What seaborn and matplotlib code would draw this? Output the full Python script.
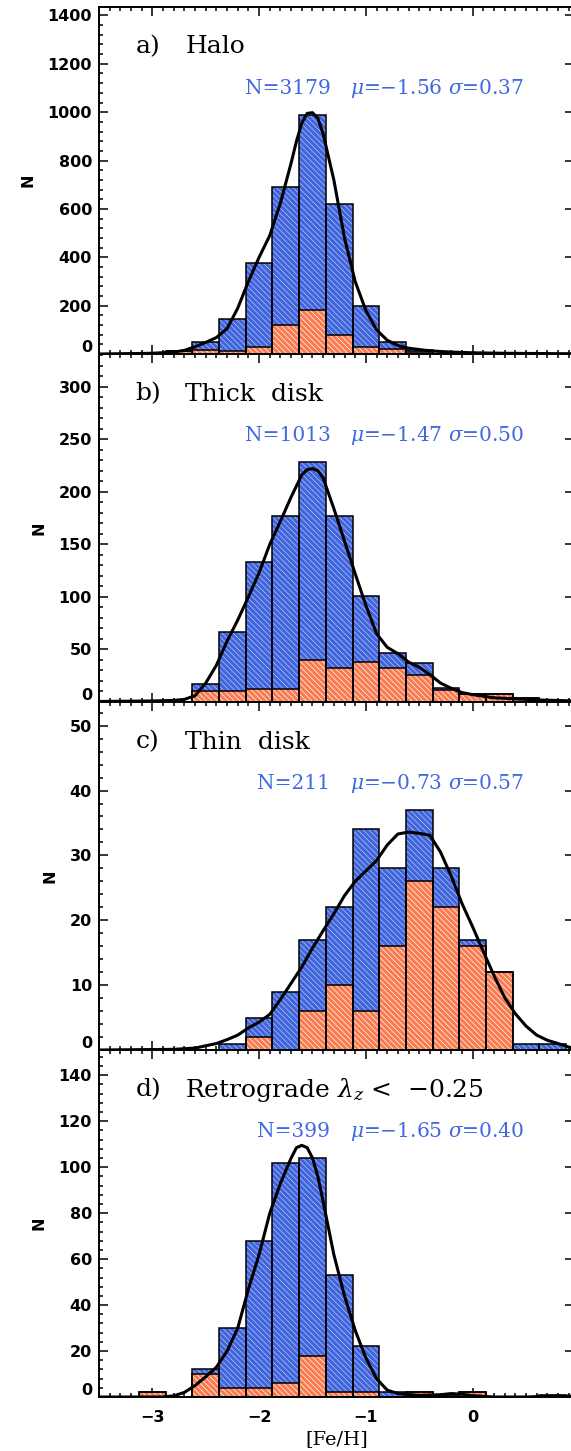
import numpy as np
import pandas as pd
import matplotlib
matplotlib.use("Agg")
import matplotlib.pyplot as plt
import seaborn as sns
from matplotlib.ticker import MultipleLocator

# ---------------- data ----------------
bin_centers = [-3.25, -3.0, -2.75, -2.5, -2.25, -2.0, -1.75, -1.5, -1.25,
               -1.0, -0.75, -0.5, -0.25, 0.0, 0.25, 0.5, 0.75]

halo_all = [0, 0, 12, 50, 146, 378, 690, 990, 622, 198, 50, 15, 0, 0, 0, 0, 0]
halo_sub = [0, 0, 12, 15, 11, 29, 118, 180, 80, 29, 22, 8, 0, 0, 0, 0, 0]
halo_curve_x = [-3.5, -3.0, -2.8, -2.7, -2.6, -2.5, -2.4, -2.3, -2.2, -2.1, -2.0,
                -1.9, -1.8, -1.7, -1.65, -1.6, -1.55, -1.5, -1.45, -1.4, -1.3,
                -1.2, -1.1, -1.0, -0.9, -0.8, -0.7, -0.6, -0.4, -0.2, 0.0, 0.3, 0.95]
halo_curve_y = [0, 3, 8, 15, 30, 48, 68, 105, 190, 300, 400, 490, 625, 790, 880,
                955, 995, 998, 975, 910, 720, 480, 300, 180, 100, 57, 35, 24, 13,
                8, 5, 3, 1]

thick_all = [0, 0, 0, 17, 67, 133, 177, 228, 177, 101, 47, 37, 13, 8, 8, 4, 0]
thick_sub = [0, 0, 0, 10, 10, 12, 12, 40, 32, 38, 32, 26, 11, 8, 8, 4, 0]
thick_curve_x = [-3.5, -3.0, -2.8, -2.7, -2.6, -2.5, -2.4, -2.3, -2.2, -2.1, -2.0,
                 -1.9, -1.8, -1.7, -1.6, -1.55, -1.5, -1.45, -1.4, -1.3, -1.2,
                 -1.1, -1.0, -0.9, -0.8, -0.7, -0.6, -0.5, -0.4, -0.3, -0.2,
                 -0.1, 0.0, 0.2, 0.4, 0.6, 0.95]
thick_curve_y = [0.5, 1, 1.5, 2.5, 6, 18, 35, 58, 78, 100, 123, 150, 172, 195,
                 216, 221, 222, 220, 213, 184, 153, 122, 92, 65, 52, 46, 38, 33,
                 26, 18, 13, 9, 7, 4, 3, 2, 1]

thin_all = [0, 0, 0, 0, 1, 5, 9, 17, 22, 34, 28, 37, 28, 17, 12, 1, 1]
thin_sub = [0, 0, 0, 0, 0, 2, 0, 6, 10, 6, 16, 26, 22, 16, 12, 0, 0]
thin_curve_x = [-3.5, -2.8, -2.6, -2.4, -2.3, -2.2, -2.1, -2.0, -1.9, -1.8, -1.7,
                -1.6, -1.5, -1.4, -1.3, -1.2, -1.1, -1.0, -0.9, -0.8, -0.7,
                -0.6, -0.5, -0.4, -0.3, -0.2, -0.1, 0.0, 0.1, 0.2, 0.3, 0.4,
                0.5, 0.6, 0.7, 0.8, 0.95]
thin_curve_y = [0, 0.1, 0.3, 1, 1.6, 2.3, 3.4, 4.3, 5.5, 7.8, 10.3, 12.8, 15.7,
                18.4, 21, 23.8, 26, 27.6, 29.2, 31.6, 33.3, 33.6, 33.4, 33.1,
                30.5, 26.8, 22.6, 19, 15.2, 11.5, 8.1, 5.6, 3.7, 2.3, 1.5, 1,
                0.2]

retro_all = [0, 2, 0, 12, 30, 68, 102, 104, 53, 22, 2, 2, 1, 2, 0, 0, 1]
retro_sub = [0, 2, 0, 10, 4, 4, 6, 18, 2, 2, 0, 2, 0, 2, 0, 0, 0]
retro_curve_x = [-3.5, -2.9, -2.8, -2.7, -2.6, -2.5, -2.4, -2.3, -2.2, -2.1, -2.0,
                 -1.9, -1.8, -1.7, -1.65, -1.6, -1.55, -1.5, -1.45, -1.4, -1.3,
                 -1.2, -1.1, -1.0, -0.9, -0.8, -0.7, -0.5, -0.3, -0.2, -0.1,
                 0.0, 0.2, 0.5, 0.75, 0.95]
retro_curve_y = [0, 0, 0.5, 2, 5, 8.8, 13, 20, 30, 47, 62, 80, 93, 104, 108.5,
                 109.5, 108.5, 104, 96, 85, 62, 44, 29, 17, 8, 3, 1.5, 0.7, 1,
                 1.5, 1.2, 0.6, 0, 0, 0.4, 0.4]

panel_tags = ["a)", "b)", "c)", "d)"]
panel_names = ["Halo", "Thick  disk", "Thin  disk", r"Retrograde $\lambda_z$ <  $-$0.25"]
stat_n = ["N=3179", "N=1013", "N=211", "N=399"]
stat_ms = ["\u2212" + "1.56", "\u2212" + "1.47", "\u2212" + "0.73", "\u2212" + "1.65"]
stat_sd = ["0.37", "0.50", "0.57", "0.40"]
y_max = [1435, 331, 53.65, 151]
y_major = [200, 50, 10, 20]
y_minor = [40, 10, 2, 4]

# ---------------- style ----------------
sns.set_style("ticks")
plt.rcParams["font.family"] = ["DejaVu Sans"]
plt.rcParams["mathtext.fontset"] = "dejavuserif"
plt.rcParams["hatch.linewidth"] = 0.3
for key in ("text.color", "axes.labelcolor", "xtick.color", "ytick.color", "axes.edgecolor"):
    plt.rcParams[key] = "black"

BLUE = "#4065dd"
ORANGE = "#fb7b50"
TEXT_BLUE = "#4169E1"
HATCH = "\\" * 6

W, H = 571, 1451
fig = plt.figure(figsize=(W / 100, H / 100), dpi=100)

left_px, right_px = 99, 574
bounds_px = [(7, 354), (354, 702), (702, 1050), (1050, 1397)]

datasets = [
    (halo_all, halo_sub, halo_curve_x, halo_curve_y),
    (thick_all, thick_sub, thick_curve_x, thick_curve_y),
    (thin_all, thin_sub, thin_curve_x, thin_curve_y),
    (retro_all, retro_sub, retro_curve_x, retro_curve_y),
]

for i, (top, bot) in enumerate(bounds_px):
    ax = fig.add_axes([left_px / W, 1 - bot / H, (right_px - left_px) / W, (bot - top) / H])
    all_c, sub_c, cx, cy = datasets[i]

    for counts, col in ((all_c, BLUE), (sub_c, ORANGE)):
        df = pd.DataFrame({"feh": bin_centers, "n": counts})
        df = df[df["n"] > 0]
        sns.barplot(data=df, x="feh", y="n", native_scale=True, width=1, ax=ax,
                    color=col, saturation=1, edgecolor=col, linewidth=0,
                    errorbar=None, zorder=2)
        sns.barplot(data=df, x="feh", y="n", native_scale=True, width=1, ax=ax,
                    fill=False, color="white", linewidth=0, hatch=HATCH,
                    errorbar=None, zorder=2.5)
        sns.barplot(data=df, x="feh", y="n", native_scale=True, width=1, ax=ax,
                    fill=False, color="black", linewidth=1.1, errorbar=None,
                    zorder=3)

    sns.lineplot(x=cx, y=cy, ax=ax, color="black", linewidth=2.2, zorder=4)

    ax.set_xlim(-3.5, 0.95)
    ax.xaxis.set_major_locator(MultipleLocator(1))
    ax.xaxis.set_minor_locator(MultipleLocator(0.1))
    yticks = [k * y_major[i] for k in range(0, int(y_max[i] // y_major[i]) + 1)]
    ax.set_yticks(yticks)
    ax.set_yticklabels([""] + [str(int(t)) for t in yticks[1:]],
                       fontweight="bold", fontsize=11.5)
    ax.yaxis.set_minor_locator(MultipleLocator(y_minor[i]))
    ax.set_ylim(0, y_max[i])

    ax.tick_params(which="both", direction="in", top=True, bottom=True, left=True,
                   width=1.1, color="black")
    ax.tick_params(which="major", length=6.5)
    ax.tick_params(which="minor", length=3.2)
    ax.tick_params(axis="y", which="major", right=True)
    ax.tick_params(axis="y", which="minor", right=False)
    ax.tick_params(axis="y", pad=5)
    ax.tick_params(axis="x", labelsize=11.5, pad=9)
    for sp in ax.spines.values():
        sp.set_linewidth(1.4)
        sp.set_color("black")

    # "0" label drawn slightly raised, as in the reference
    ax.annotate("0", xy=(0, 0), xycoords=("axes fraction", "data"),
                xytext=(-5, 4.5), textcoords="offset points", ha="right",
                va="center", fontsize=11.5, fontweight="bold")

    ax.set_ylabel("N", fontsize=11.5, fontweight="bold", labelpad=9)
    ax.set_xlabel("")

    tx = ax.get_xaxis_transform()
    ax.text(-3.159, 0.885, panel_tags[i], transform=tx, ha="left", va="center",
            family="DejaVu Serif", fontsize=18)
    ax.text(-2.69, 0.885, panel_names[i], transform=tx, ha="left", va="center",
            family="DejaVu Serif", fontsize=18)
    ax.text(-1.332, 0.765, stat_n[i], transform=tx, ha="right", va="center",
            family="DejaVu Serif", fontsize=14.5, color=TEXT_BLUE)
    ax.text(-1.144, 0.765, r"$\mu$=" + stat_ms[i] + r" $\sigma$=" + stat_sd[i],
            transform=tx, ha="left", va="center", family="DejaVu Serif",
            fontsize=14.5, color=TEXT_BLUE)

    if i < 3:
        ax.tick_params(axis="x", labelbottom=False)
    else:
        for lab in ax.get_xticklabels():
            lab.set_fontweight("bold")
        ax.set_xlabel("[Fe/H]", family="DejaVu Serif", fontsize=14, labelpad=4)

fig.savefig("out.png", dpi=100)
